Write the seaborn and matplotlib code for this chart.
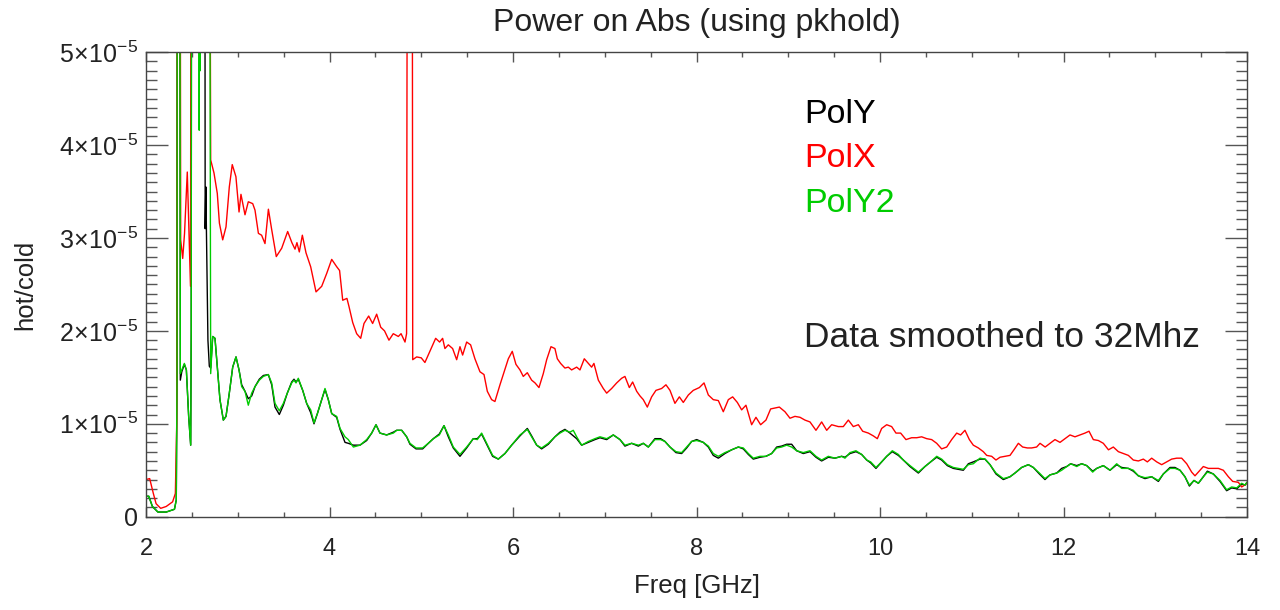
import numpy as np
import pandas as pd
import matplotlib
matplotlib.use("Agg")
import matplotlib.pyplot as plt
import seaborn as sns
from matplotlib.ticker import MultipleLocator, FuncFormatter

# ---------------- data (values in units of 1e-5; 9 = off-scale spike) ----------------
polx_freq = [2.00, 2.04, 2.08, 2.11, 2.16, 2.22, 2.29, 2.32, 2.335, 2.345, 2.37, 2.378, 2.40, 2.42, 2.45,
             2.47, 2.485, 2.494, 2.69, 2.705, 2.741, 2.777, 2.80, 2.836, 2.872, 2.908, 2.94, 2.98, 3.014,
             3.035, 3.079, 3.115, 3.163, 3.188, 3.225, 3.26, 3.297, 3.334, 3.37, 3.42, 3.479, 3.544, 3.59,
             3.624, 3.645, 3.671, 3.704, 3.744, 3.795, 3.853, 3.915, 3.97, 4.024, 4.079, 4.11, 4.144, 4.19,
             4.213, 4.253, 4.296, 4.34, 4.376, 4.427, 4.47, 4.514, 4.558, 4.60, 4.648, 4.695, 4.75, 4.78,
             4.823, 4.84, 4.852, 4.90, 4.907, 4.95, 5.00, 5.04, 5.09, 5.157, 5.20,
             5.233, 5.258, 5.295, 5.342, 5.386, 5.422, 5.451, 5.495, 5.538, 5.585, 5.64, 5.684, 5.72, 5.767,
             5.803, 5.858, 5.894, 5.949, 5.992, 6.032, 6.076, 6.112, 6.156, 6.203, 6.24, 6.283, 6.33, 6.367,
             6.414, 6.457, 6.483, 6.519, 6.566, 6.603, 6.639, 6.694, 6.73, 6.777, 6.821, 6.857, 6.882, 6.93,
             6.984, 7.021, 7.075, 7.13, 7.184, 7.22, 7.268, 7.304, 7.348, 7.384,
             7.42, 7.464, 7.511, 7.558, 7.62, 7.667, 7.711, 7.765, 7.813, 7.856, 7.911, 7.965, 8.031, 8.082,
             8.129, 8.183, 8.238, 8.292, 8.347, 8.394, 8.445, 8.492, 8.539, 8.601, 8.648, 8.699, 8.757, 8.808,
             8.855, 8.903, 8.964, 9.019, 9.073, 9.128, 9.182, 9.237, 9.302, 9.364, 9.419, 9.473, 9.546,
             9.60, 9.655, 9.709, 9.764, 9.811, 9.873, 9.927, 9.971, 10.018, 10.073, 10.127, 10.174, 10.225,
             10.283, 10.345, 10.40, 10.454, 10.509, 10.563, 10.618, 10.672, 10.727, 10.781, 10.836, 10.879,
             10.926, 10.974, 11.017, 11.072, 11.126, 11.163, 11.217, 11.264, 11.308, 11.362, 11.417, 11.46,
             11.508, 11.555, 11.606, 11.653, 11.707,
             11.744, 11.80, 11.853, 11.907, 11.962, 12.016, 12.071, 12.125, 12.18, 12.234, 12.278, 12.325,
             12.38, 12.434, 12.49, 12.543, 12.598, 12.652, 12.707, 12.761, 12.816, 12.87, 12.914, 12.961,
             13.016, 13.07, 13.125, 13.179, 13.234, 13.288, 13.343, 13.397, 13.433, 13.47, 13.524, 13.579,
             13.633, 13.688, 13.742, 13.797, 13.844, 13.906, 13.942, 13.989, 14.0]
polx_val = [0.40, 0.41, 0.25, 0.14, 0.09, 0.11, 0.16, 0.25, 1.0, 9, 9, 2.98, 2.78, 3.05, 3.71,
            3.0, 2.48, 9, 9, 3.84, 3.70, 3.48, 3.16, 2.98, 3.12, 3.55, 3.79, 3.66, 3.28,
            3.47, 3.25, 3.39, 3.37, 3.30, 3.05, 3.03, 2.94, 3.31, 3.09, 2.80, 2.89, 3.07, 2.95,
            2.88, 2.95, 2.85, 3.03, 2.84, 2.69, 2.42, 2.48, 2.62, 2.77, 2.69, 2.65, 2.33, 2.35,
            2.26, 2.09, 1.97, 1.92, 2.08, 2.16, 2.08, 2.18, 2.04, 2.00, 1.90, 1.97, 1.94, 1.97,
            1.88, 1.97, 9, 9, 1.69, 1.72, 1.71, 1.66, 1.77, 1.92, 1.88,
            1.92, 1.81, 1.85, 1.81, 1.69, 1.83, 1.74, 1.88, 1.85, 1.70, 1.56, 1.53, 1.35, 1.26,
            1.24, 1.42, 1.53, 1.70, 1.78, 1.64, 1.58, 1.51, 1.55, 1.47, 1.44, 1.39, 1.54, 1.69,
            1.83, 1.81, 1.70, 1.65, 1.60, 1.61, 1.58, 1.61, 1.58, 1.70, 1.65, 1.61, 1.65, 1.47,
            1.38, 1.33, 1.38, 1.44, 1.49, 1.51, 1.39, 1.45, 1.35, 1.30,
            1.26, 1.18, 1.29, 1.36, 1.38, 1.42, 1.36, 1.22, 1.29, 1.23, 1.31, 1.36, 1.39, 1.44,
            1.31, 1.26, 1.25, 1.13, 1.26, 1.29, 1.23, 1.15, 1.20, 0.99, 1.07, 0.99, 1.04, 1.16,
            1.17, 1.18, 1.13, 1.06, 1.08, 1.07, 1.04, 1.02, 0.93, 1.02, 0.93, 0.99, 0.97,
            0.97, 1.04, 0.97, 0.99, 0.92, 0.90, 0.87, 0.84, 0.95, 0.99, 0.97, 0.90, 0.90,
            0.83, 0.85, 0.85, 0.86, 0.84, 0.83, 0.79, 0.73, 0.75, 0.83, 0.90, 0.88,
            0.93, 0.83, 0.77, 0.74, 0.70, 0.66, 0.65, 0.61, 0.64, 0.65, 0.66, 0.72,
            0.79, 0.75, 0.74, 0.74, 0.75,
            0.79, 0.75, 0.79, 0.83, 0.80, 0.84, 0.88, 0.86, 0.88, 0.90, 0.92, 0.83,
            0.82, 0.79, 0.72, 0.75, 0.70, 0.68, 0.66, 0.61, 0.60, 0.62, 0.59, 0.63,
            0.59, 0.56, 0.59, 0.62, 0.63, 0.63, 0.57, 0.48, 0.44, 0.48, 0.54, 0.52,
            0.52, 0.52, 0.50, 0.43, 0.38, 0.37, 0.32, 0.35, 0.37]

poly2_freq = [2.00, 2.03, 2.07, 2.13, 2.22, 2.31, 2.33, 2.338, 2.342, 2.368, 2.374, 2.39, 2.418, 2.44,
              2.465, 2.487, 2.493, 2.497, 2.575, 2.58, 2.585, 2.59, 2.595, 2.69,
              2.705, 2.727, 2.752, 2.777, 2.806, 2.843, 2.872, 2.908, 2.945, 2.981, 3.014, 3.043, 3.079,
              3.115, 3.152, 3.188, 3.235, 3.279, 3.333, 3.37, 3.406, 3.453, 3.497, 3.54, 3.588, 3.613,
              3.635, 3.66, 3.708, 3.751, 3.795, 3.831, 3.868, 3.915, 3.951, 3.987, 4.024, 4.078, 4.115,
              4.169, 4.205, 4.26, 4.332, 4.405, 4.46, 4.507, 4.55, 4.623, 4.696, 4.732, 4.787, 4.841,
              4.877, 4.943, 5.015, 5.077, 5.132, 5.197,
              5.248, 5.295, 5.349, 5.422, 5.495, 5.567, 5.611, 5.658, 5.713, 5.778, 5.84, 5.912, 5.985,
              6.076, 6.156, 6.203, 6.258, 6.312, 6.385, 6.457, 6.512, 6.566, 6.621, 6.657, 6.694, 6.748,
              6.821, 6.893, 6.948, 7.021, 7.093, 7.166, 7.22, 7.293, 7.366,
              7.42, 7.475, 7.547, 7.609, 7.656, 7.711, 7.776, 7.838, 7.893, 7.947, 8.002, 8.074, 8.129,
              8.183, 8.238, 8.31, 8.383, 8.456, 8.51, 8.565, 8.619, 8.692, 8.757, 8.819, 8.874, 8.928,
              8.983, 9.037, 9.092, 9.164, 9.237, 9.302, 9.364, 9.437, 9.509, 9.582,
              9.618, 9.673, 9.738, 9.80, 9.855, 9.898, 9.956, 10.018, 10.073, 10.134, 10.20, 10.254,
              10.327, 10.418, 10.49, 10.552, 10.618, 10.672, 10.734, 10.799, 10.854, 10.908, 10.963,
              11.017, 11.09, 11.144, 11.199, 11.264, 11.344, 11.417, 11.471, 11.544, 11.617, 11.671,
              11.737, 11.798,
              11.853, 11.926, 11.98, 12.035, 12.078, 12.144, 12.198, 12.253, 12.318, 12.362, 12.434,
              12.507, 12.58, 12.634, 12.707, 12.761, 12.816, 12.888, 12.961, 13.034, 13.088, 13.161,
              13.215, 13.27, 13.324, 13.372, 13.422, 13.47, 13.524, 13.568, 13.633, 13.706, 13.778,
              13.833, 13.888, 13.942, 13.978, 14.0]
poly2_val = [0.22, 0.22, 0.11, 0.05, 0.05, 0.08, 0.18, 1.5, 9, 9, 1.54, 1.58, 1.65, 1.58,
             1.08, 0.77, 2.0, 9, 9, 4.16, 9, 4.80, 9, 9,
             1.54, 1.94, 1.92, 1.61, 1.26, 1.04, 1.08, 1.33, 1.61, 1.72, 1.58, 1.40, 1.35,
             1.20, 1.33, 1.40, 1.47, 1.51, 1.53, 1.44, 1.22, 1.14, 1.22, 1.33, 1.44, 1.47,
             1.44, 1.49, 1.36, 1.22, 1.15, 1.01, 1.11, 1.26, 1.38, 1.26, 1.11, 1.08, 0.95,
             0.86, 0.83, 0.75, 0.77, 0.83, 0.90, 0.99, 0.90, 0.88, 0.90, 0.93, 0.93, 0.86,
             0.79, 0.74, 0.74, 0.79, 0.84, 0.88,
             0.98, 0.88, 0.75, 0.67, 0.75, 0.84, 0.83, 0.90, 0.79, 0.66, 0.62, 0.68, 0.77,
             0.88, 0.94, 0.86, 0.77, 0.74, 0.79, 0.86, 0.90, 0.93, 0.91, 0.93, 0.86, 0.77,
             0.81, 0.84, 0.86, 0.84, 0.88, 0.83, 0.77, 0.79, 0.77,
             0.79, 0.75, 0.83, 0.83, 0.81, 0.75, 0.70, 0.69, 0.75, 0.81, 0.82, 0.80, 0.76,
             0.68, 0.65, 0.69, 0.72, 0.75, 0.74, 0.68, 0.63, 0.65, 0.65, 0.68, 0.74, 0.75,
             0.77, 0.75, 0.71, 0.69, 0.71, 0.65, 0.61, 0.65, 0.63, 0.65,
             0.63, 0.69, 0.71, 0.67, 0.61, 0.59, 0.53, 0.59, 0.65, 0.71, 0.67, 0.61,
             0.55, 0.48, 0.54, 0.59, 0.65, 0.62, 0.56, 0.53, 0.52, 0.51, 0.56,
             0.57, 0.63, 0.62, 0.56, 0.47, 0.41, 0.43, 0.47, 0.53, 0.56, 0.53,
             0.47, 0.41,
             0.45, 0.47, 0.50, 0.54, 0.57, 0.54, 0.57, 0.55, 0.48, 0.52, 0.55,
             0.50, 0.57, 0.52, 0.52, 0.50, 0.44, 0.42, 0.43, 0.39, 0.46, 0.52,
             0.52, 0.50, 0.43, 0.34, 0.39, 0.36, 0.43, 0.48, 0.46, 0.39, 0.29,
             0.32, 0.31, 0.36, 0.34, 0.37]

poly_freq = [2.00, 2.03, 2.07, 2.13, 2.22, 2.31, 2.33, 2.338, 2.342, 2.368, 2.374, 2.39, 2.418, 2.44,
             2.465, 2.487, 2.493, 2.497, 2.64, 2.645, 2.652, 2.658, 2.675, 2.69,
             2.705, 2.727, 2.752, 2.777, 2.806, 2.843, 2.872, 2.908, 2.945, 2.981, 3.014, 3.043, 3.079,
             3.115, 3.152, 3.188, 3.235, 3.279, 3.333, 3.37, 3.406, 3.453, 3.497, 3.54, 3.588, 3.613,
             3.635, 3.66, 3.708, 3.751, 3.795, 3.831, 3.868, 3.915, 3.951, 3.987, 4.024, 4.078, 4.115,
             4.169, 4.205, 4.26, 4.332, 4.405, 4.46, 4.507, 4.55, 4.623, 4.696, 4.732, 4.787, 4.841,
             4.877, 4.943, 5.015, 5.077, 5.132, 5.197,
             5.248, 5.295, 5.349, 5.422, 5.495, 5.567, 5.611, 5.658, 5.713, 5.778, 5.84, 5.912, 5.985,
             6.076, 6.156, 6.203, 6.258, 6.312, 6.385, 6.457, 6.512, 6.566, 6.621, 6.657, 6.694, 6.748,
             6.821, 6.893, 6.948, 7.021, 7.093, 7.166, 7.22, 7.293, 7.366,
             7.42, 7.475, 7.547, 7.609, 7.656, 7.711, 7.776, 7.838, 7.893, 7.947, 8.002, 8.074, 8.129,
             8.183, 8.238, 8.31, 8.383, 8.456, 8.51, 8.565, 8.619, 8.692, 8.757, 8.819, 8.874, 8.928,
             8.983, 9.037, 9.092, 9.164, 9.237, 9.302, 9.364, 9.437, 9.509, 9.582,
             9.618, 9.673, 9.738, 9.80, 9.855, 9.898, 9.956, 10.018, 10.073, 10.134, 10.20, 10.254,
             10.327, 10.418, 10.49, 10.552, 10.618, 10.672, 10.734, 10.799, 10.854, 10.908, 10.963,
             11.017, 11.09, 11.144, 11.199, 11.264, 11.344, 11.417, 11.471, 11.544, 11.617, 11.671,
             11.737, 11.798,
             11.853, 11.926, 11.98, 12.035, 12.078, 12.144, 12.198, 12.253, 12.318, 12.362, 12.434,
             12.507, 12.58, 12.634, 12.707, 12.761, 12.816, 12.888, 12.961, 13.034, 13.088, 13.161,
             13.215, 13.27, 13.324, 13.372, 13.422, 13.47, 13.524, 13.568, 13.633, 13.706, 13.778,
             13.833, 13.888, 13.942, 13.978, 14.0]
poly_val = [0.22, 0.22, 0.11, 0.05, 0.05, 0.08, 0.18, 1.5, 9, 9, 1.47, 1.56, 1.64, 1.58,
            1.08, 0.77, 2.0, 9, 9, 3.10, 3.55, 3.10, 1.90, 1.62,
            1.60, 1.94, 1.92, 1.61, 1.26, 1.04, 1.08, 1.33, 1.61, 1.72, 1.58, 1.42, 1.35,
            1.27, 1.30, 1.40, 1.48, 1.52, 1.53, 1.42, 1.18, 1.10, 1.20, 1.33, 1.45, 1.48,
            1.45, 1.48, 1.36, 1.22, 1.12, 1.00, 1.11, 1.26, 1.37, 1.26, 1.11, 1.07, 0.94,
            0.80, 0.79, 0.77, 0.77, 0.82, 0.90, 0.99, 0.90, 0.88, 0.91, 0.93, 0.93, 0.86,
            0.78, 0.73, 0.73, 0.79, 0.84, 0.89,
            0.98, 0.86, 0.74, 0.65, 0.74, 0.84, 0.84, 0.89, 0.78, 0.65, 0.62, 0.68, 0.77,
            0.87, 0.95, 0.87, 0.77, 0.73, 0.78, 0.86, 0.91, 0.94, 0.90, 0.87, 0.84, 0.77,
            0.80, 0.83, 0.85, 0.83, 0.88, 0.83, 0.76, 0.79, 0.76,
            0.79, 0.75, 0.84, 0.84, 0.81, 0.75, 0.69, 0.68, 0.74, 0.81, 0.83, 0.80, 0.75,
            0.66, 0.63, 0.68, 0.72, 0.75, 0.73, 0.67, 0.62, 0.64, 0.65, 0.68, 0.75, 0.76,
            0.78, 0.78, 0.71, 0.68, 0.70, 0.64, 0.60, 0.64, 0.63, 0.65,
            0.64, 0.68, 0.70, 0.67, 0.61, 0.58, 0.52, 0.59, 0.65, 0.70, 0.66, 0.61,
            0.54, 0.47, 0.54, 0.59, 0.64, 0.61, 0.55, 0.52, 0.51, 0.50, 0.57,
            0.59, 0.62, 0.62, 0.56, 0.46, 0.40, 0.43, 0.47, 0.53, 0.56, 0.53,
            0.46, 0.40,
            0.45, 0.47, 0.52, 0.54, 0.57, 0.55, 0.57, 0.55, 0.49, 0.52, 0.55,
            0.50, 0.56, 0.53, 0.52, 0.49, 0.44, 0.41, 0.43, 0.38, 0.46, 0.53,
            0.53, 0.50, 0.43, 0.33, 0.39, 0.36, 0.43, 0.49, 0.46, 0.38, 0.28,
            0.31, 0.30, 0.35, 0.34, 0.37]

series_names = ["PolY", "PolX", "PolY2"]
series_colors = ["#000000", "#ff0000", "#00cc00"]
y_unit = 1e-5

title_text = "Power on Abs (using pkhold)"
x_label = "Freq [GHz]"
y_label = "hot/cold"
note_text = "Data smoothed to 32Mhz"

# ---------------- style ----------------
sns.set_theme(style="white")
plt.rcParams["font.family"] = ["Liberation Sans", "DejaVu Sans"]
plt.rcParams["mathtext.fontset"] = "custom"
plt.rcParams["mathtext.rm"] = "Liberation Sans"
plt.rcParams["mathtext.it"] = "Liberation Sans:italic"
plt.rcParams["mathtext.sf"] = "Liberation Sans"

W, H = 1280, 610
fig = plt.figure(figsize=(W / 100, H / 100), dpi=100)
ax_l, ax_r, ax_t, ax_b = 146, 1247, 52.2, 516.7
ax = fig.add_axes([ax_l / W, 1 - ax_b / H, (ax_r - ax_l) / W, (ax_b - ax_t) / H])

data = {
    "PolY": (poly_freq, poly_val),
    "PolX": (polx_freq, polx_val),
    "PolY2": (poly2_freq, poly2_val),
}
for name, col in zip(series_names, series_colors):
    fr, vals = data[name]
    df = pd.DataFrame({"freq": fr, "val": np.asarray(vals) * y_unit})
    sns.lineplot(data=df, x="freq", y="val", color=col, lw=1.0, ax=ax,
                 sort=False, estimator=None, legend=False)

ax.set_xlim(2, 14)
ax.set_ylim(0, 5e-5)

ax.xaxis.set_major_locator(MultipleLocator(2))
ax.xaxis.set_minor_locator(MultipleLocator(0.5))
ax.yaxis.set_major_locator(MultipleLocator(1e-5))
ax.yaxis.set_minor_locator(MultipleLocator(1e-6))


def yfmt(v, _):
    n = int(round(v / y_unit))
    if n == 0:
        return "0"
    return r"$%d\!\times\!10^{-5}$" % n


ax.yaxis.set_major_formatter(FuncFormatter(yfmt))
ax.xaxis.set_major_formatter(FuncFormatter(lambda v, _: "%d" % round(v)))

tick_col = "#555555"
ax.tick_params(axis="y", which="major", direction="in", length=15.8, width=1.0, color=tick_col,
               left=True, right=True, labelsize=18, pad=6, labelcolor="#222222")
ax.tick_params(axis="y", which="minor", direction="in", length=7.9, width=1.0, color=tick_col,
               left=True, right=True)
ax.tick_params(axis="x", which="major", direction="in", length=7.2, width=1.0, color=tick_col,
               bottom=True, top=True, labelsize=17, pad=15, labelcolor="#222222")
ax.tick_params(axis="x", which="minor", direction="in", length=3.6, width=1.0, color=tick_col,
               bottom=True, top=True)
for s in ax.spines.values():
    s.set_color("#444444")
    s.set_linewidth(1.0)

ax.set_xlabel(x_label, fontsize=18.5, color="#222222")
ax.xaxis.set_label_coords(0.5, (ax_b - 586) / (ax_b - ax_t))
ax.xaxis.label.set_va("center")
ax.set_ylabel(y_label, fontsize=18.5, color="#222222")
ax.yaxis.set_label_coords((25 - ax_l) / (ax_r - ax_l), (ax_b - 285) / (ax_b - ax_t))
ax.yaxis.label.set_va("center")

ax.set_title(title_text, fontsize=23, color="#222222", y=(ax_b - 23) / (ax_b - ax_t), va="center", pad=0)

legend_base = [122.7, 166.7, 211.7]
tx = (804 - ax_l) / (ax_r - ax_l)
for name, col, yb in zip(series_names, series_colors, legend_base):
    ax.text(tx, (ax_b - yb) / (ax_b - ax_t), name, color=col, fontsize=24.5,
            transform=ax.transAxes, ha="left", va="baseline")
ax.text(tx, (ax_b - 346.7) / (ax_b - ax_t), note_text, color="#222222", fontsize=25.5,
        transform=ax.transAxes, ha="left", va="baseline")

fig.savefig("out.png", dpi=100)
